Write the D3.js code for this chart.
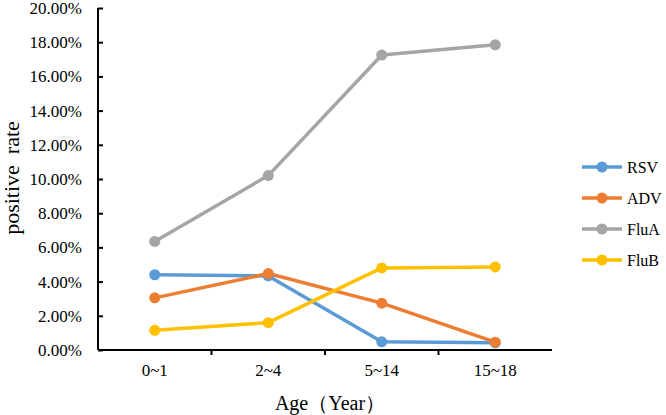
<!DOCTYPE html>
<html><head><meta charset="utf-8">
<script src="https://cdn.jsdelivr.net/npm/d3@7"></script>
<style>body{margin:0;background:#fff}svg{display:block}text{font-family:"Liberation Serif","Times New Roman",serif}</style>
</head><body><svg id="c" width="666" height="415"></svg>
<script>
const categories = ["0~1","2~4","5~14","15~18"];
const RSV  = [4.40, 4.33, 0.48, 0.42];
const ADV  = [3.05, 4.47, 2.74, 0.46];
const FluA = [6.35, 10.20, 17.25, 17.85];
const FluB = [1.15, 1.60, 4.80, 4.86];
const seriesNames = ["RSV","ADV","FluA","FluB"];
const seriesColors = ["#5B9BD5","#ED7D31","#A5A5A5","#FFC000"];
const yTicks = [0,2,4,6,8,10,12,14,16,18,20];
const series = [RSV, ADV, FluA, FluB];

const svg = d3.select("#c");
const L = 98, R = 552, T = 8, B = 350;
const x = d3.scaleBand().domain(categories).range([L, R]);
const y = d3.scaleLinear().domain([0, 20]).range([B, T]);

// y axis
const ya = svg.append("g").attr("transform", `translate(${L},0)`)
  .call(d3.axisLeft(y).tickValues(yTicks).tickSize(-5).tickPadding(16).tickFormat(d => d.toFixed(2) + "%"));
ya.attr("font-family", null);
ya.select(".domain").attr("stroke", "#000").attr("stroke-width", 2).attr("d", `M0,${B}V${T}`);
ya.selectAll(".tick line").attr("stroke", "#000").attr("stroke-width", 2);
ya.selectAll(".tick text").attr("font-size", 17).attr("fill", "#000");

// x axis
const xa = svg.append("g").attr("transform", `translate(0,${B})`)
  .call(d3.axisBottom(x).tickSize(0).tickPadding(14));
xa.attr("font-family", null);
xa.select(".domain").attr("stroke", "#000").attr("stroke-width", 2).attr("d", `M${L},0H${R}`);
xa.selectAll(".tick text").attr("font-size", 17).attr("fill", "#000");
// category boundary ticks
const bounds = categories.slice(1).map(c => x(c));
xa.selectAll(".bt").data(bounds).enter().append("line")
  .attr("x1", d => d).attr("x2", d => d).attr("y1", 0).attr("y2", 5)
  .attr("stroke", "#000").attr("stroke-width", 2);

const cx = c => x(c) + x.bandwidth() / 2;
const line = d3.line().x((d, i) => cx(categories[i])).y(d => y(d));

series.forEach((s, k) => {
  svg.append("path").datum(s).attr("d", line).attr("fill", "none")
    .attr("stroke", seriesColors[k]).attr("stroke-width", 3.5).attr("stroke-linejoin", "round");
});
series.forEach((s, k) => {
  svg.selectAll(".m" + k).data(s).enter().append("circle")
    .attr("cx", (d, i) => cx(categories[i])).attr("cy", d => y(d)).attr("r", 5.5)
    .attr("fill", seriesColors[k]);
});

// legend
const lg = svg.append("g");
seriesNames.forEach((n, k) => {
  const yy = 167 + k * 31;
  lg.append("line").attr("x1", 582).attr("x2", 622).attr("y1", yy).attr("y2", yy)
    .attr("stroke", seriesColors[k]).attr("stroke-width", 3.5);
  lg.append("circle").attr("cx", 602).attr("cy", yy).attr("r", 5.5).attr("fill", seriesColors[k]);
  lg.append("text").attr("x", 627).attr("y", yy + 5.5).attr("font-size", 16).attr("fill", "#000").text(n);
});

// axis titles
svg.append("text").attr("x", (L + R) / 2 + 5).attr("y", 410).attr("text-anchor", "middle")
  .attr("font-size", 20).attr("fill", "#000").text("Age（Year）");
svg.append("text").attr("transform", "translate(19,178) rotate(-90)").attr("text-anchor", "middle")
  .attr("font-size", 22).attr("fill", "#000").style("white-space", "pre").text("positive  rate");
</script></body></html>
